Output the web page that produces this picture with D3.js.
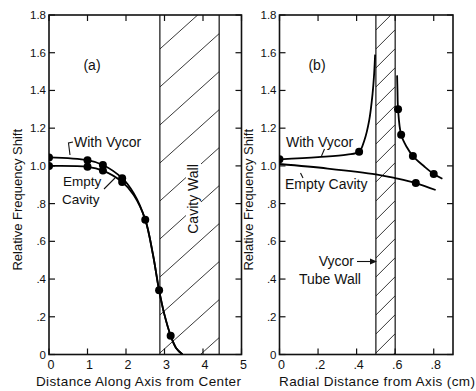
<!DOCTYPE html>
<html>
<head>
<meta charset="utf-8">
<script src="https://cdn.jsdelivr.net/npm/d3@7"></script>
<style>
  html, body { margin: 0; padding: 0; background: #fff; }
  svg { display: block; font-family: "Liberation Sans", Arial, sans-serif; }
</style>
</head>
<body>
<div id="chart"></div>
<script>
// y axis shared by both panels
const yTicks = [0, 0.2, 0.4, 0.6, 0.8, 1.0, 1.2, 1.4, 1.6, 1.8];
const yTickLabels = ["0", ".2", ".4", ".6", ".8", "1.0", "1.2", "1.4", "1.6", "1.8"];

// panel (a): distance along axis
const aTicks = [0, 1, 2, 3, 4, 5];
const aTickLabels = ["0", "1", "2", "3", "4", "5"];
const aWall = [2.88, 4.42];
const aVycorCurve = [[0, 1.045], [1, 1.03], [1.4, 1.005], [1.9, 0.935], [2.2, 0.855], [2.5, 0.715], [2.7, 0.53], [2.86, 0.34], [3.0, 0.21], [3.16, 0.10], [3.3, 0.035], [3.47, 0]];
const aEmptyCurve = [[0, 1.0], [1, 0.995], [1.4, 0.975], [1.9, 0.915], [2.2, 0.845], [2.5, 0.715], [2.7, 0.53], [2.86, 0.34], [3.0, 0.21], [3.16, 0.10], [3.3, 0.035], [3.47, 0]];
const aVycorPts = [[0, 1.045], [1, 1.03], [1.4, 1.005], [1.9, 0.935], [2.5, 0.715], [2.86, 0.34], [3.16, 0.10]];
const aEmptyPts = [[0, 1.0], [1, 0.995], [1.4, 0.975], [1.9, 0.915]];

// panel (b): radial distance
const bTicks = [0, 0.2, 0.4, 0.6, 0.8];
const bTickLabels = ["0", ".2", ".4", ".6", ".8"];
const bWall = [0.5, 0.6];
const bVycorInner = [[0, 1.035], [0.2, 1.047], [0.35, 1.06], [0.413, 1.075], [0.44, 1.135], [0.465, 1.24], [0.483, 1.385], [0.491, 1.49], [0.496, 1.59]];
const bVycorOuter = [[0.61, 1.48], [0.612, 1.40], [0.615, 1.30], [0.631, 1.165], [0.66, 1.10], [0.692, 1.052], [0.75, 0.998], [0.80, 0.957], [0.845, 0.932]];
const bEmptyCurve = [[0, 1.01], [0.25, 0.986], [0.5, 0.955], [0.6, 0.935], [0.707, 0.909], [0.81, 0.872]];
const bVycorPts = [[0, 1.035], [0.413, 1.075], [0.615, 1.30], [0.631, 1.165], [0.692, 1.052], [0.80, 0.957]];
const bEmptyPts = [[0.707, 0.909]];

const width = 476, height = 391;
const svg = d3.select("#chart").append("svg")
  .attr("width", width).attr("height", height);
svg.append("rect").attr("width", width).attr("height", height).attr("fill", "#fff");

const y = d3.scaleLinear().domain([0, 1.8]).range([354.5, 15]);
const xA = d3.scaleLinear().domain([0, 5]).range([49, 241.5]);
const xB = d3.scaleLinear().domain([0, 0.9]).range([279.5, 453]);

function panel(id, x, ticks, tickLabels, wall, hatchStep, hatchSlope) {
  const g = svg.append("g");
  const [x0, x1] = x.range();
  const [y0, y1] = y.range();

  g.append("clipPath").attr("id", "clip-" + id)
    .append("rect").attr("x", x0).attr("y", y1).attr("width", x1 - x0).attr("height", y0 - y1);

  // hatched wall
  const wx0 = x(wall[0]), wx1 = x(wall[1]);
  g.append("clipPath").attr("id", "wall-" + id)
    .append("rect").attr("x", wx0).attr("y", y1).attr("width", wx1 - wx0).attr("height", y0 - y1);
  const hatch = g.append("g").attr("clip-path", `url(#wall-${id})`)
    .attr("stroke", "#222").attr("stroke-width", 0.9);
  for (let yy = y1 - 80; yy < y0 + 120; yy += hatchStep) {
    hatch.append("line")
      .attr("x1", wx0).attr("y1", yy)
      .attr("x2", wx1).attr("y2", yy - (wx1 - wx0) * hatchSlope);
  }
  g.selectAll(".wl").data(wall).join("line")
    .attr("x1", d => x(d)).attr("x2", d => x(d))
    .attr("y1", y1).attr("y2", y0)
    .attr("stroke", "#111").attr("stroke-width", 1.2);

  // ticks (inward)
  const tk = 6;
  const tickG = g.append("g").attr("stroke", "#111").attr("stroke-width", 1.2);
  yTicks.forEach(v => {
    tickG.append("line").attr("x1", x0).attr("x2", x0 + tk).attr("y1", y(v)).attr("y2", y(v));
    tickG.append("line").attr("x1", x1).attr("x2", x1 - tk).attr("y1", y(v)).attr("y2", y(v));
  });
  ticks.forEach(v => {
    tickG.append("line").attr("x1", x(v)).attr("x2", x(v)).attr("y1", y0).attr("y2", y0 - tk);
    tickG.append("line").attr("x1", x(v)).attr("x2", x(v)).attr("y1", y1).attr("y2", y1 + tk);
  });

  // frame
  g.append("rect").attr("x", x0).attr("y", y1).attr("width", x1 - x0).attr("height", y0 - y1)
    .attr("fill", "none").attr("stroke", "#111").attr("stroke-width", 1.6);

  // tick labels
  g.selectAll(".yl").data(yTicks).join("text")
    .attr("x", x0 - 3).attr("y", d => y(d) + 4)
    .attr("text-anchor", "end").attr("font-size", 11.5).attr("fill", "#111")
    .text((d, i) => yTickLabels[i]);
  g.selectAll(".xl").data(ticks).join("text")
    .attr("x", d => x(d) + 2).attr("y", y0 + 14)
    .attr("text-anchor", "middle").attr("font-size", 12.5).attr("fill", "#111")
    .text((d, i) => tickLabels[i]);

  // y title
  g.append("text")
    .attr("transform", `translate(${x0 - 27},${(y0 + y1) / 2 + 15}) rotate(-90)`)
    .attr("text-anchor", "middle").attr("font-size", 13).attr("fill", "#111")
    .text("Relative Frequency Shift");

  return { g, clip: `url(#clip-${id})` };
}

const line = x => d3.line().x(d => x(d[0])).y(d => y(d[1])).curve(d3.curveCatmullRom.alpha(0.5));

function drawCurve(p, x, data) {
  p.g.append("path").datum(data)
    .attr("clip-path", p.clip)
    .attr("d", line(x))
    .attr("fill", "none").attr("stroke", "#000").attr("stroke-width", 1.8);
}
function drawDots(p, x, data) {
  p.g.append("g").attr("clip-path", p.clip)
    .selectAll("circle").data(data).join("circle")
    .attr("cx", d => x(d[0])).attr("cy", d => y(d[1])).attr("r", 4)
    .attr("fill", "#000");
}

// ---- panel (a)
const pA = panel("a", xA, aTicks, aTickLabels, aWall, 38, 0.9);
drawCurve(pA, xA, aVycorCurve);
drawCurve(pA, xA, aEmptyCurve);
drawDots(pA, xA, aVycorPts);
drawDots(pA, xA, aEmptyPts);

// wall label
pA.g.append("rect").attr("x", 186).attr("y", 161).attr("width", 15).attr("height", 76).attr("fill", "#fff");
pA.g.append("text")
  .attr("transform", `translate(${198},${199}) rotate(-90)`)
  .attr("text-anchor", "middle").attr("font-size", 14).attr("fill", "#111")
  .text("Cavity Wall");

const txt = (g, x, yy, s, anchor, fs) => g.append("text")
  .attr("x", x).attr("y", yy).attr("text-anchor", anchor || "start")
  .attr("font-size", fs || 14).attr("fill", "#111").text(s);
const lead = (g, pts) => g.append("path").attr("d", d3.line()(pts))
  .attr("fill", "none").attr("stroke", "#111").attr("stroke-width", 1.1);

txt(pA.g, 92, 70, "(a)", "middle");
txt(pA.g, 74, 147, "With Vycor");
lead(pA.g, [[73, 142], [68.5, 143], [70, 155]]);
txt(pA.g, 63, 186, "Empty", "start", 13.5);
txt(pA.g, 62, 204, "Cavity", "start", 13.5);
lead(pA.g, [[104, 189], [115, 178]]);

svg.append("text").attr("x", 36).attr("y", 386)
  .attr("font-size", 13.5).attr("fill", "#111").attr("textLength", 205)
  .text("Distance Along Axis from Center");

// ---- panel (b)
const pB = panel("b", xB, bTicks, bTickLabels, bWall, 19, 1.0);
drawCurve(pB, xB, bVycorInner);
drawCurve(pB, xB, bVycorOuter);
drawCurve(pB, xB, bEmptyCurve);
drawDots(pB, xB, bVycorPts);
drawDots(pB, xB, bEmptyPts);

txt(pB.g, 317, 70, "(b)", "middle");
txt(pB.g, 286, 147, "With Vycor");
lead(pB.g, [[324.5, 149], [321.5, 156]]);
txt(pB.g, 285, 189, "Empty Cavity");
lead(pB.g, [[303, 178], [300.5, 173]]);
txt(pB.g, 354, 266, "Vycor", "end");
txt(pB.g, 299, 284, "Tube Wall");
lead(pB.g, [[357, 261.5], [371, 261.5]]);
pB.g.append("path").attr("d", "M377,261.5 L370,258.5 L370,264.5 Z").attr("fill", "#111");

svg.append("text").attr("x", 279).attr("y", 386)
  .attr("font-size", 13.5).attr("fill", "#111").attr("textLength", 196)
  .text("Radial Distance from Axis (cm)");
</script>
</body>
</html>
